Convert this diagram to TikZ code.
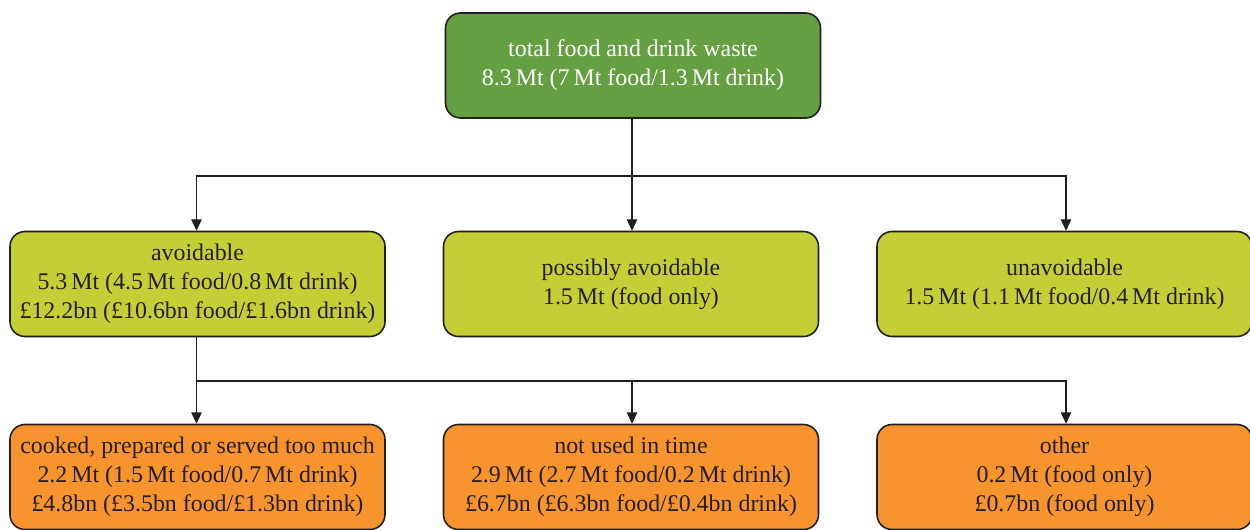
\documentclass[tikz,border=0pt]{standalone}
\usepackage{fontspec}
\setmainfont{Liberation Serif}
\usetikzlibrary{arrows.meta}

\definecolor{linegray}{HTML}{231F20}
\definecolor{totalgreen}{HTML}{64A041}
\definecolor{midgreen}{HTML}{C4CF35}
\definecolor{wasteorange}{HTML}{F7942D}

\tikzset{
	wastebox/.style={draw=linegray, line width=0.9pt, rounded corners=0.3cm,
		minimum width=7.5cm, minimum height=2.1cm, align=center,
		font=\fontsize{13.6}{16.4}\selectfont, text=linegray, inner sep=0pt},
	arr/.style={draw=linegray, line width=0.6pt, -{Triangle[length=6.5pt,width=6pt]}},
	plain/.style={draw=linegray, line width=0.6pt}
}

\begin{document}
\begin{tikzpicture}
	\useasboundingbox (0,0) rectangle (25,10.58);

	\node [wastebox, fill=totalgreen, text=white] at (12.66,9.27) (total)
		{total food and drink waste\\8.3\,Mt (7\,Mt food/1.3\,Mt drink)};

	\node [wastebox, fill=midgreen] at (3.95,4.9) (avoid)
		{avoidable\\5.3\,Mt (4.5\,Mt food/0.8\,Mt drink)\\\pounds12.2bn (\pounds10.6bn food/\pounds1.6bn drink)};
	\node [wastebox, fill=midgreen] at (12.62,4.9) (possibly)
		{possibly avoidable\\1.5\,Mt (food only)};
	\node [wastebox, fill=midgreen] at (21.29,4.9) (unavoid)
		{unavoidable\\1.5\,Mt (1.1\,Mt food/0.4\,Mt drink)};

	\node [wastebox, fill=wasteorange] at (3.95,1.04) (cooked)
		{cooked, prepared or served too much\\2.2\,Mt (1.5\,Mt food/0.7\,Mt drink)\\\pounds4.8bn (\pounds3.5bn food/\pounds1.3bn drink)};
	\node [wastebox, fill=wasteorange] at (12.62,1.04) (notused)
		{not used in time\\2.9\,Mt (2.7\,Mt food/0.2\,Mt drink)\\\pounds6.7bn (\pounds6.3bn food/\pounds0.4bn drink)};
	\node [wastebox, fill=wasteorange] at (21.29,1.04) (other)
		{other\\0.2\,Mt (food only)\\\pounds0.7bn (food only)};

	\coordinate (split1) at (12.64,7.06);
	\coordinate (split2) at (3.93,2.96);

	\draw [plain] (total.south -| split1) -- (split1);
	\draw [arr] (split1) -| (avoid.north -| split2);
	\draw [arr] (split1) -- (possibly.north -| split1);
	\draw [arr] (split1) -| (21.32,0 |- unavoid.north);

	\draw [plain] (avoid.south -| split2) -- (split2);
	\draw [arr] (split2) -- (cooked.north -| split2);
	\draw [arr] (split2) -| (notused.north -| split1);
	\draw [arr] (split2) -| (21.32,0 |- other.north);
\end{tikzpicture}
\end{document}
